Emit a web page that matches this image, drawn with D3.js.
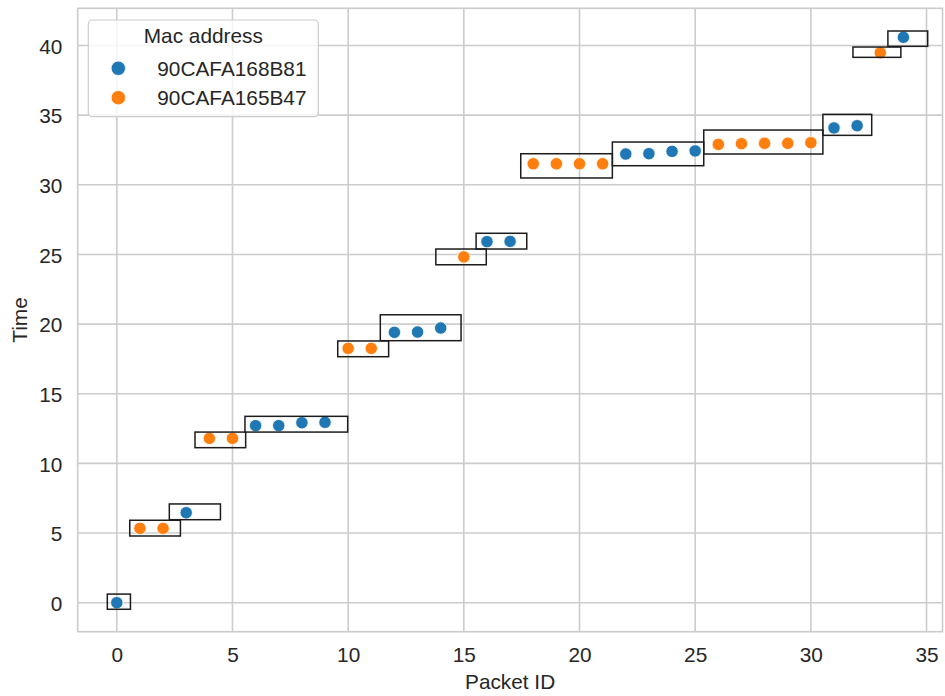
<!DOCTYPE html>
<html>
<head>
<meta charset="utf-8">
<script src="https://cdn.jsdelivr.net/npm/d3@7"></script>
<style>
  html, body { margin: 0; padding: 0; background: #fff; }
  svg { display: block; }
  text { font-family: "Liberation Sans", Arial, sans-serif; fill: #262626; }
</style>
</head>
<body>
<svg id="chart" width="945" height="696"></svg>
<script>
// Packets captured, their sender and arrival time
const packetIds = [0, 1, 2, 3, 4, 5, 6, 7, 8, 9, 10, 11, 12, 13, 14, 15, 16, 17,
  18, 19, 20, 21, 22, 23, 24, 25, 26, 27, 28, 29, 30, 31, 32, 33, 34];
const macAddresses = ["90CAFA168B81", "90CAFA165B47"];
const packetMac = [0, 1, 1, 0, 1, 1, 0, 0, 0, 0, 1, 1, 0, 0, 0, 1, 0, 0,
  1, 1, 1, 1, 0, 0, 0, 0, 1, 1, 1, 1, 1, 0, 0, 1, 0];
const packetTime = [0, 5.34, 5.34, 6.46, 11.80, 11.80, 12.71, 12.71, 12.92, 12.95,
  18.26, 18.26, 19.41, 19.43, 19.72, 24.82, 25.92, 25.94,
  31.51, 31.51, 31.51, 31.51, 32.21, 32.23, 32.40, 32.43,
  32.90, 32.95, 32.98, 32.98, 33.02, 34.08, 34.24, 39.48, 40.59];

// Bursts of consecutive packets from the same sender (boxes in data units)
const burstX0 = [-0.41, 0.56, 2.27, 3.38, 5.54, 9.55, 11.39, 13.79, 15.53, 17.46, 21.42, 25.37, 30.52, 31.82, 33.33];
const burstX1 = [0.59, 2.75, 4.48, 5.57, 9.98, 11.75, 14.88, 15.97, 17.72, 21.42, 25.37, 30.52, 32.63, 33.89, 35.05];
const burstY0 = [-0.47, 4.79, 5.96, 11.13, 12.25, 17.66, 18.81, 24.26, 25.39, 30.49, 31.37, 32.21, 33.55, 39.15, 39.94];
const burstY1 = [0.62, 5.92, 7.09, 12.25, 13.38, 18.79, 20.67, 25.39, 26.52, 32.23, 33.07, 33.93, 35.06, 39.89, 41.04];

const xTicks = [0, 5, 10, 15, 20, 25, 30, 35];
const yTicks = [0, 5, 10, 15, 20, 25, 30, 35, 40];
const palette = ["#1f77b4", "#ff7f0e"];

const FONT = "20.8px";
const svg = d3.select("#chart");
const plotLeft = 77.7, plotRight = 942.5, plotTop = 8.3, plotBottom = 631.7;

const x = d3.scaleLinear().domain([-1.69, 35.69]).range([plotLeft, plotRight]);
const y = d3.scaleLinear().domain([-2.08, 42.67]).range([plotBottom, plotTop]);
const color = d3.scaleOrdinal().domain([0, 1]).range(palette);

// grid
const grid = svg.append("g");
grid.selectAll("line.gx").data(xTicks).join("line")
  .attr("x1", d => x(d)).attr("x2", d => x(d))
  .attr("y1", plotTop).attr("y2", plotBottom)
  .attr("stroke", "#cccccc").attr("stroke-width", 1.6);
grid.selectAll("line.gy").data(yTicks).join("line")
  .attr("x1", plotLeft).attr("x2", plotRight)
  .attr("y1", d => y(d)).attr("y2", d => y(d))
  .attr("stroke", "#cccccc").attr("stroke-width", 1.6);

// frame
svg.append("rect")
  .attr("x", plotLeft).attr("y", plotTop)
  .attr("width", plotRight - plotLeft).attr("height", plotBottom - plotTop)
  .attr("fill", "none").attr("stroke", "#cccccc").attr("stroke-width", 1.6);

// axes (labels only, no tick marks)
const xAxis = svg.append("g").attr("transform", `translate(0,${plotBottom})`)
  .call(d3.axisBottom(x).tickValues(xTicks).tickSize(0).tickPadding(0));
xAxis.select(".domain").remove();
xAxis.selectAll("text")
  .attr("dy", null).attr("y", 30)
  .style("font-size", FONT).style("font-family", "Liberation Sans, Arial, sans-serif")
  .attr("fill", "#262626");

const yAxis = svg.append("g").attr("transform", `translate(${plotLeft},0)`)
  .call(d3.axisLeft(y).tickValues(yTicks).tickSize(0).tickPadding(0));
yAxis.select(".domain").remove();
yAxis.selectAll("text")
  .attr("dy", null).attr("x", -15.4).attr("y", 7.6)
  .style("font-size", FONT).style("font-family", "Liberation Sans, Arial, sans-serif")
  .attr("fill", "#262626");

// axis titles
svg.append("text")
  .attr("x", (plotLeft + plotRight) / 2).attr("y", 689.3)
  .attr("text-anchor", "middle").style("font-size", FONT)
  .text("Packet ID");
svg.append("text")
  .attr("transform", `translate(26.8,${(plotTop + plotBottom) / 2}) rotate(-90)`)
  .attr("text-anchor", "middle").style("font-size", FONT)
  .text("Time");

// points
svg.append("g").selectAll("circle").data(packetIds).join("circle")
  .attr("cx", i => x(i))
  .attr("cy", i => y(packetTime[i]))
  .attr("r", 6.2)
  .attr("fill", i => color(packetMac[i]))
  .attr("stroke", "#ffffff").attr("stroke-width", 0.8);

// burst boxes
svg.append("g").selectAll("rect").data(burstX0.map((d, i) => i)).join("rect")
  .attr("x", i => x(burstX0[i]))
  .attr("y", i => y(burstY1[i]))
  .attr("width", i => x(burstX1[i]) - x(burstX0[i]))
  .attr("height", i => y(burstY0[i]) - y(burstY1[i]))
  .attr("fill", "none").attr("stroke", "#1c1c1c").attr("stroke-width", 1.5);

// legend
const lg = svg.append("g");
lg.append("rect")
  .attr("x", 88.3).attr("y", 20).attr("width", 230).attr("height", 96.7)
  .attr("rx", 4).attr("ry", 4)
  .attr("fill", "#ffffff").attr("fill-opacity", 0.8)
  .attr("stroke", "#cccccc").attr("stroke-width", 1.2);
lg.append("text")
  .attr("x", 203.3).attr("y", 43.4).attr("text-anchor", "middle")
  .style("font-size", FONT).text("Mac address");
const entries = lg.selectAll("g.entry").data(macAddresses).join("g")
  .attr("transform", (d, i) => `translate(0,${68.3 + i * 29.4})`);
entries.append("circle")
  .attr("cx", 118.3).attr("cy", 0).attr("r", 7.2)
  .attr("fill", (d, i) => color(i))
  .attr("stroke", "#ffffff").attr("stroke-width", 0.8);
entries.append("text")
  .attr("x", 157.3).attr("y", 7.4)
  .style("font-size", FONT).text(d => d);
</script>
</body>
</html>
